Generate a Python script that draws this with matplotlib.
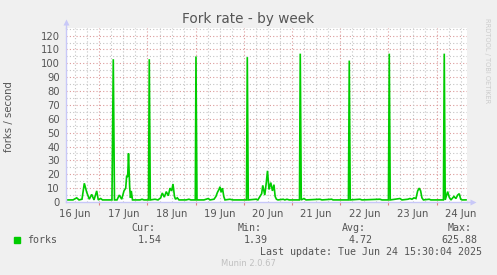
import matplotlib
matplotlib.use("Agg")
import matplotlib.pyplot as plt
import numpy as np

# ---- data (time in days since 2025-06-16 00:00, value in forks/second) ----
days = [0.336, 0.454, 0.531, 0.579, 0.641, 0.689, 0.739, 0.793, 0.842, 0.890, 0.946, 0.979,
        1.029, 1.066, 1.263, 1.290, 1.315, 1.367, 1.415, 1.465, 1.512, 1.548, 1.568, 1.589,
        1.606, 1.631, 1.647, 1.664, 1.689, 1.844, 1.886, 1.927,
        2.021, 2.037, 2.058, 2.156, 2.218, 2.274, 2.307, 2.349, 2.390, 2.432, 2.467, 2.502,
        2.529, 2.560, 2.581, 2.618, 2.654, 2.800, 2.860, 2.900,
        2.992, 3.006, 3.027, 3.172, 3.261, 3.297, 3.380, 3.420, 3.452, 3.483, 3.504, 3.529,
        3.556, 3.583, 3.608, 3.710, 3.770, 3.920,
        4.054, 4.071, 4.091, 4.251, 4.290, 4.369, 4.392, 4.434, 4.465, 4.490, 4.521, 4.558,
        4.593, 4.624, 4.649, 4.676, 4.707, 4.817, 4.850, 4.894, 4.940,
        5.154, 5.170, 5.191, 5.247, 5.290, 5.579, 5.620, 5.822, 5.850,
        6.170, 6.187, 6.207, 6.409, 6.450, 6.824, 6.865,
        7.000, 7.017, 7.037, 7.239, 7.280, 7.405, 7.446, 7.488, 7.529, 7.571, 7.606, 7.639,
        7.668, 7.695, 7.726, 7.846, 7.880,
        8.141, 8.158, 8.178, 8.228, 8.261, 8.297, 8.359, 8.400, 8.436, 8.469, 8.500, 8.527,
        8.610]
forks = [1.5, 1.5, 3, 1.5, 2, 13.5, 7, 2, 5.5, 1.5, 8, 1.5,
         2.5, 1.5, 1.5, 103, 1.5, 1.5, 5, 2, 8, 10, 19, 18,
         35, 10, 3, 8, 1.5, 1.5, 2, 1.5,
         1.5, 103, 1.5, 2, 1.5, 3, 6.5, 3.5, 7.5, 4.5, 10, 8,
         13, 4, 2, 3, 1.5, 1.5, 2, 1.5,
         1.5, 105, 1.5, 1.5, 2.5, 1.5, 2, 4, 7, 9, 11, 7,
         10, 4, 1.5, 2, 1.5, 1.5,
         1.5, 104.5, 1.5, 2, 1.5, 6, 12, 5, 14, 22.5, 9, 14,
         8, 12.5, 4, 2, 1.5, 2, 1.5, 2, 1.5,
         1.5, 107, 1.5, 2.5, 1.5, 2, 1.5, 2, 1.5,
         1.5, 102, 1.5, 2, 1.5, 2, 1.5,
         1.5, 107, 1.5, 2.5, 1.5, 2, 2.5, 2, 3, 2.5, 8, 10,
         8, 3, 1.5, 2, 1.5,
         1.5, 107, 1.5, 7.5, 3.5, 1.5, 4, 2.5, 5, 6, 2, 1.5,
         1.54]

day_labels = ["16 Jun", "17 Jun", "18 Jun", "19 Jun", "20 Jun",
              "21 Jun", "22 Jun", "23 Jun", "24 Jun"]
y_ticks = list(range(0, 121, 10))
stat_names = ["Cur:", "Min:", "Avg:", "Max:"]
stat_values = ["1.54", "1.39", "4.72", "625.88"]
series_name = "forks"
title = "Fork rate - by week"
last_update = "Last update: Tue Jun 24 15:30:04 2025"

# ---- figure ----
W, H = 497, 275
fig = plt.figure(figsize=(W / 100, H / 100), dpi=100, facecolor="#f0f0f0")

ax_l, ax_r, ax_t, ax_b = 66, 467, 28, 202
ax = fig.add_axes([ax_l / W, 1 - ax_b / H, (ax_r - ax_l) / W, (ax_b - ax_t) / H])
ax.set_facecolor("white")
x0, x1 = 0.309, 8.63
ax.set_xlim(x0, x1)
ax.set_ylim(0, 125.5)

minor_col = "#c4c4c4"
major_col = "#dc9a9a"
# grid
for yv in np.arange(5, 126, 5):
    ax.axhline(yv, color=major_col if yv % 10 == 0 else minor_col,
               lw=0.8, ls=(0, (1, 2)), zorder=1)
for q in np.arange(0.25, x1, 0.25):
    if q < x0:
        continue
    ax.axvline(q, color=major_col if abs(q - round(q)) < 1e-6 else minor_col,
               lw=0.8, ls=(0, (1, 2)), zorder=1)

ax.plot(days, forks, color="#00cc00", lw=1.2, zorder=3, solid_joinstyle="miter")

for s in ["top", "right"]:
    ax.spines[s].set_visible(False)
for s in ["left", "bottom"]:
    ax.spines[s].set_color("#c8c8f8")
    ax.spines[s].set_linewidth(1.0)
    ax.spines[s].set_zorder(4)

ax.set_yticks(y_ticks)
ax.set_yticklabels([str(v) for v in y_ticks])
ax.tick_params(axis="y", length=0, pad=4.5, labelsize=7.2, labelcolor="#555555")

ax.set_xticks(np.arange(1, 9))
ax.set_xticklabels([])
ax.tick_params(axis="x", which="major", length=2, width=0.8, color="#e08080", direction="out")
ax.set_xticks(np.arange(0.5, 9, 1.0), labels=day_labels, minor=True)
ax.tick_params(axis="x", which="minor", length=0, pad=5, labelsize=7.2, labelcolor="#555555")

# axis arrows
ax.plot([1.0, 1.012], [0, 0], transform=ax.transAxes, color="#c8c8f8", lw=1.0, clip_on=False)
ax.plot([1.014], [0], marker=">", ms=4, color="#c8c8f8", transform=ax.transAxes,
        clip_on=False, mec="none")
ax.plot([0, 0], [1.0, 1.03], transform=ax.transAxes, color="#c8c8f8", lw=1.0, clip_on=False)
ax.plot([0], [1.035], marker="^", ms=4, color="#c8c8f8", transform=ax.transAxes,
        clip_on=False, mec="none")

# title / labels
fig.text(248 / W, 1 - 19 / H, title, ha="center", va="center", fontsize=9.8, color="#555555")
fig.text(9 / W, 1 - 117 / H, "forks / second", rotation=90, ha="center", va="center",
         fontsize=7.3, color="#555555")
fig.text(487 / W, 1 - 18 / H, "RRDTOOL / TOBI OETIKER", rotation=270, ha="center", va="top",
         fontsize=4.8, color="#cccccc")

mono = "DejaVu Sans Mono"
name_x = [131.7, 237.3, 342.3, 447.3]
val_x = [137.7, 243.3, 348.3, 441.0]
for nx, n in zip(name_x, stat_names):
    fig.text(nx / W, 1 - 228 / H, n, ha="left", va="center", family=mono,
             fontsize=7.2, color="#555555")
for vx, v in zip(val_x, stat_values):
    fig.text(vx / W, 1 - 240 / H, v, ha="left", va="center", family=mono,
             fontsize=7.2, color="#555555")
fig.patches.append(plt.Rectangle((14 / W, 1 - 243 / H), 6 / W, 6 / H,
                                 transform=fig.transFigure, color="#00cc00"))
fig.text(26.7 / W, 1 - 240 / H, series_name, ha="left", va="center", family=mono,
         fontsize=7.2, color="#555555")
fig.text(482.3 / W, 1 - 252 / H, last_update, ha="right", va="center", family=mono,
         fontsize=7.2, color="#555555")
fig.text(248 / W, 1 - 264 / H, "Munin 2.0.67", ha="center", va="center",
         fontsize=6, color="#c0c0c0")

fig.savefig("out.png", dpi=100, facecolor=fig.get_facecolor())
